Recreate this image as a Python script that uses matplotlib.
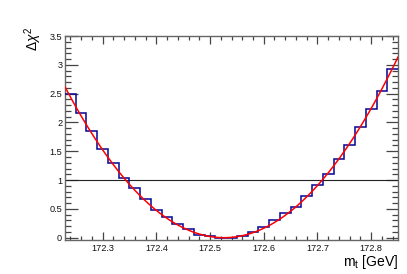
import numpy as np
import matplotlib
matplotlib.use("Agg")
import matplotlib.pyplot as plt
from matplotlib.ticker import MultipleLocator, FormatStrFormatter

plt.rcParams['font.family'] = ['Liberation Sans', 'DejaVu Sans']
plt.rcParams['mathtext.fontset'] = 'custom'
plt.rcParams['mathtext.rm'] = 'Liberation Sans'
plt.rcParams['mathtext.it'] = 'Liberation Sans:italic'

# ---- data ----
bin_edges_start = 172.23
bin_width = 0.02
hist_values = [2.49, 2.17, 1.85, 1.54, 1.30, 1.04, 0.86, 0.665, 0.48, 0.36,
               0.23, 0.145, 0.05, 0.035, 0.0, 0.0, 0.035, 0.10, 0.18, 0.30,
               0.42, 0.54, 0.72, 0.92, 1.10, 1.36, 1.61, 1.92, 2.23, 2.54, 2.92]
# parabola fit: dchi2 = ((m - fit_mean) / fit_sigma)^2
fit_mean = 172.526
fit_sigma = 0.183
ref_level = 1.0
x_ticks = [172.3, 172.4, 172.5, 172.6, 172.7, 172.8]
y_ticks = [0, 0.5, 1, 1.5, 2, 2.5, 3, 3.5]
y_tick_labels = ['0', '0.5', '1', '1.5', '2', '2.5', '3', '3.5']

edges = bin_edges_start + bin_width * np.arange(len(hist_values) + 1)

fig = plt.figure(figsize=(4.07, 2.74), dpi=100)
ax = fig.add_axes([65/407, 1-240/274, 333/407, 204/274])

xlo, xhi = edges[0], edges[-1]
ax.set_xlim(xlo, xhi)
ax.set_ylim(-0.04, 3.5)

ax.stairs(hist_values, edges, baseline=None, color='#0c0c99', lw=1.15, zorder=3)
xf = np.linspace(xlo, xhi, 400)
ax.plot(xf, ((xf - fit_mean) / fit_sigma) ** 2, color='#ff0000', lw=1.1, zorder=4)
ax.axhline(ref_level, color='#222222', lw=0.8, zorder=2)

frame_c = '#666666'
for s in ax.spines.values():
    s.set_color(frame_c)
    s.set_linewidth(1.0)

ax.set_xticks(x_ticks)
ax.xaxis.set_major_formatter(FormatStrFormatter('%.1f'))
ax.xaxis.set_minor_locator(MultipleLocator(0.02))
ax.set_yticks(y_ticks)
ax.set_yticklabels(y_tick_labels)
ax.yaxis.set_minor_locator(MultipleLocator(0.1))

ax.tick_params(axis='x', which='major', direction='in', length=6, width=0.9,
               top=True, bottom=True, color='#444444', labelsize=6.6, pad=3,
               labelcolor='#111111')
ax.tick_params(axis='x', which='minor', direction='in', length=3, width=0.9,
               top=True, bottom=True, color='#444444')
ax.tick_params(axis='y', which='major', direction='in', length=9, width=0.9,
               left=True, right=True, color='#444444', labelsize=6.6, pad=2,
               labelcolor='#111111')
ax.tick_params(axis='y', which='minor', direction='in', length=4.5, width=0.9,
               left=True, right=True, color='#444444')

fig.text(398/407, 1-266/274, r'm$_{\mathrm{t}}$ [GeV]', ha='right', va='baseline', fontsize=10)
fig.text(33/407, 1-27/274, r'$\Delta\chi^{2}$', rotation=90, ha='center', va='top', fontsize=10)

fig.savefig('out.png', dpi=100)
